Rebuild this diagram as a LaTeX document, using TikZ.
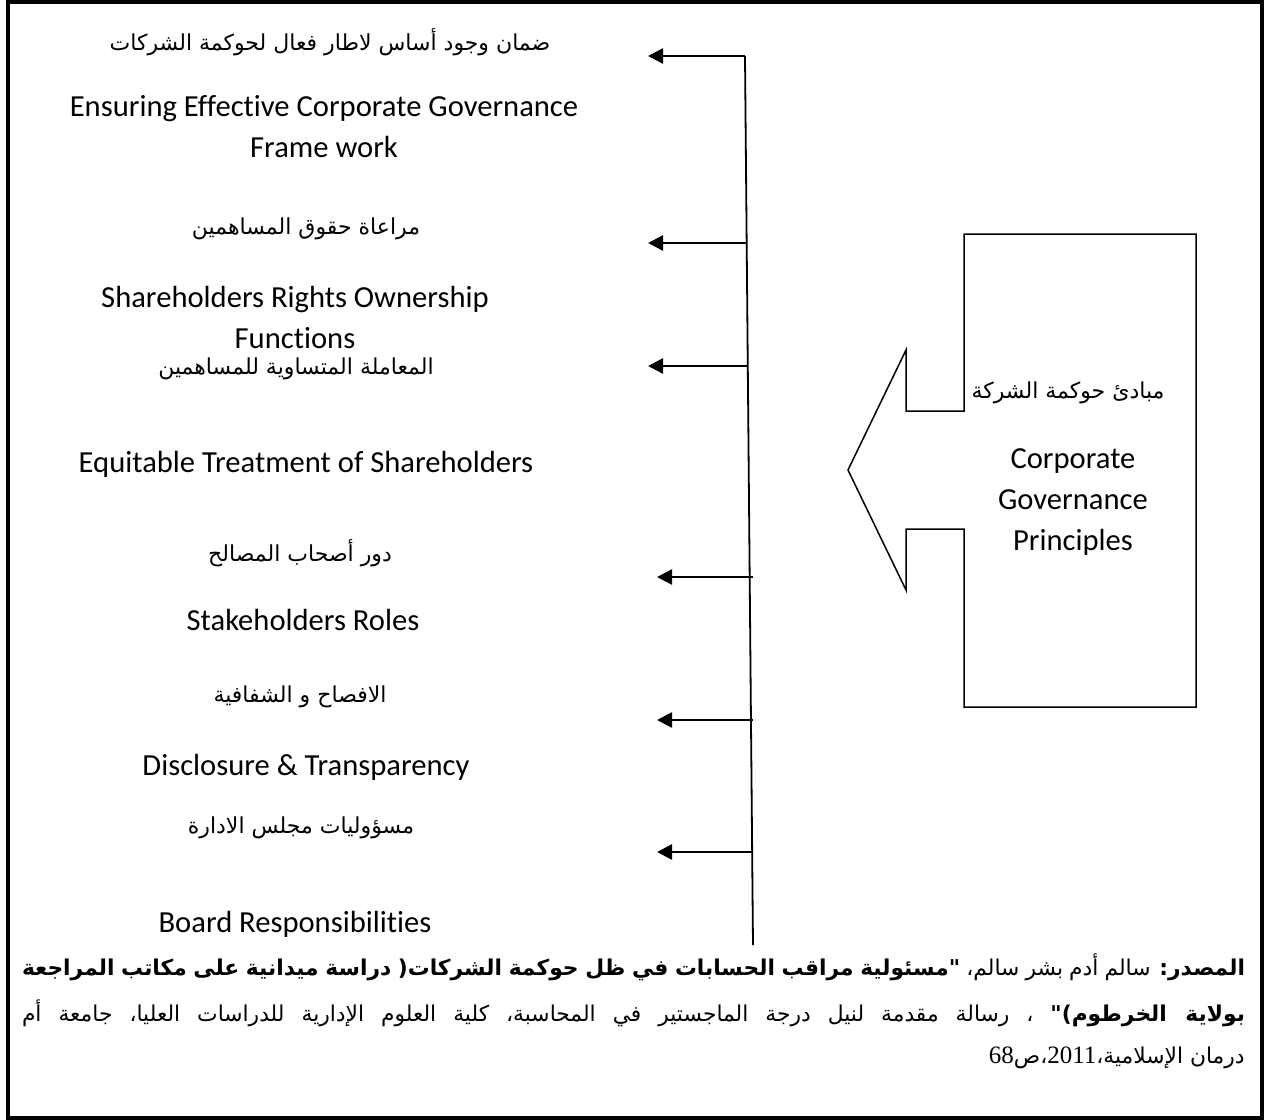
\documentclass[tikz,border=0pt]{standalone}
\usepackage{fontspec}
\setmainfont{Carlito}[Ligatures={NoCommon}]
\newfontfamily\arabicfont[Script=Arabic]{DejaVu Sans}
\newfontfamily\digitfont{Liberation Serif}
\TeXXeTstate=1
\usetikzlibrary{arrows.meta}
\tikzset{
  en/.style={inner sep=0pt, align=center, font=\fontsize{15.3}{20.5}\selectfont},
  ar/.style={inner sep=0pt, font=\arabicfont\fontsize{11}{14}\selectfont},
  foot/.style={inner sep=0pt, font=\arabicfont\fontsize{10.9}{15}\selectfont},
  conn/.style={line width=1.25pt, -{Triangle[length=7.5pt,width=7.5pt]}},
  vline/.style={line width=0.9pt},
  shape line/.style={line width=0.75pt, line join=miter},
  frame/.style={line width=2pt}
}
\begin{document}
\begin{tikzpicture}[x=0.5pt,y=-0.5pt]
\useasboundingbox (0,0) rectangle (1266,1120);
\draw[frame] (8,2) rectangle (1262,1118);

% vertical spine
\coordinate (vt) at (745,56);
\coordinate (vb) at (753,945);
\draw[vline] (vt) -- (vb);

% arrow start and tip points
\coordinate (s1) at (745,56);   \coordinate (t1) at (648,56);
\coordinate (s2) at (747,243);  \coordinate (t2) at (648,243);
\coordinate (s3) at (748,366);  \coordinate (t3) at (648,366);
\coordinate (s4) at (753,577);  \coordinate (t4) at (657,577);
\coordinate (s5) at (753,720);  \coordinate (t5) at (657,720);
\coordinate (s6) at (753,852);  \coordinate (t6) at (657,852);
\foreach \i in {1,...,6} { \draw[conn] (s\i) -- (t\i); }

% left texts
\node[ar] (a1) at (330,42) {\beginR ضمان وجود أساس لاطار فعال لحوكمة الشركات\endR};
\node[en] (e1) at (324,127) {Ensuring Effective Corporate Governance\\Frame work};
\node[ar] (a2) at (306,229) {\beginR مراعاة حقوق المساهمين\endR};
\node[en] (e2) at (295,317) {Shareholders Rights Ownership\\Functions};
\node[ar] (a3) at (296,369) {\beginR المعاملة المتساوية للمساهمين\endR};
\node[en] (e3) at (306,464) {Equitable Treatment of Shareholders};
\node[ar] (a4) at (300,553) {\beginR دور أصحاب المصالح\endR};
\node[en] (e4) at (303,620) {Stakeholders Roles};
\node[ar] (a5) at (300,697) {\beginR الافصاح و الشفافية\endR};
\node[en] (e5) at (306,767) {Disclosure \& Transparency};
\node[ar] (a6) at (301,828) {\beginR مسؤوليات مجلس الادارة\endR};
\node[en] (e6) at (295,924) {Board Responsibilities};

% right notched box with arrow
\draw[shape line] (964,234) -- (1196,234) -- (1196,707) -- (964,707) -- (964,529)
  -- (906,529) -- (906,590) -- (848,470) -- (906,350) -- (906,411) -- (964,411) -- cycle;
\node[ar] (pa) at (1068,393) {\beginR مبادئ حوكمة الشركة\endR};
\node[en] (pe) at (1073,502) {Corporate\\Governance\\Principles};

% source footer
\node[foot] (f1) at (633.5,967) {\hbox to 611.5pt{\beginR{\bfseries المصدر:} سالم أدم بشر سالم، {\bfseries "مسئولية مراقب الحسابات في ظل حوكمة الشركات( دراسة ميدانية على مكاتب المراجعة}\endR}};
\node[foot] (f2) at (633.5,1013) {\hbox to 611.5pt{\beginR{\bfseries بولاية الخرطوم)"} ، رسالة مقدمة لنيل درجة الماجستير في المحاسبة، كلية العلوم الإدارية للدراسات العليا، جامعة أم\endR}};
\node[foot, anchor=east] (f3) at (1245,1058) {\beginR درمان الإسلامية،\beginL{\digitfont\fontsize{12.5}{15}\selectfont 2011}\endL،ص\beginL{\digitfont\fontsize{12.5}{15}\selectfont 68}\endL\endR};
\end{tikzpicture}
\end{document}
